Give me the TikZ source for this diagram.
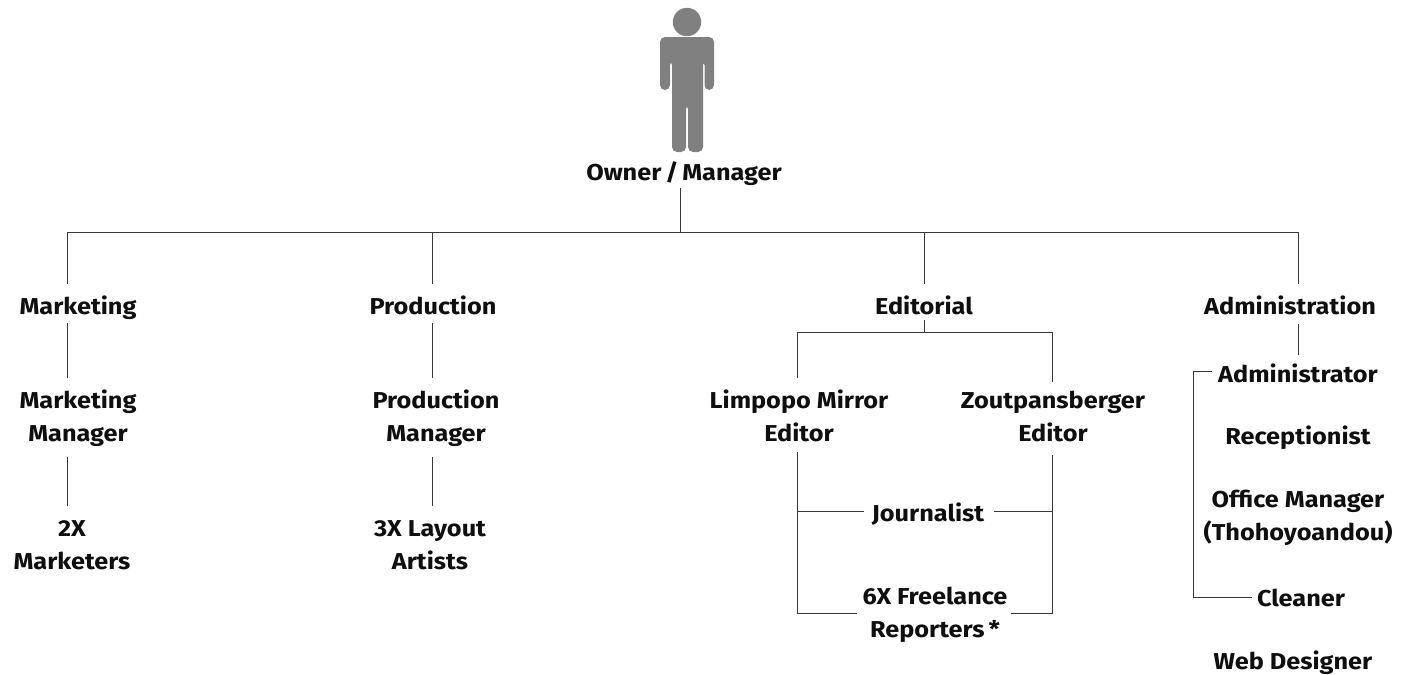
\documentclass[tikz,border=0pt]{standalone}
\usepackage{fontspec}
\setmainfont{Fira Sans}[FakeStretch=1.1]
\usetikzlibrary{calc}
\definecolor{ink}{gray}{0.06}
\definecolor{wire}{gray}{0.22}
\definecolor{figure}{gray}{0.5}
\tikzset{
  lbl/.style={font=\fontsize{23}{33}\selectfont\bfseries, text=ink, align=center, inner xsep=0pt, inner ysep=0pt, text height=15pt, text depth=1pt, minimum height=32pt, yshift=-1pt},
  lbltwo/.style={lbl, text height=48pt, minimum height=79pt},
  wirep/.style={draw=wire, line width=1pt}
}
\begin{document}
\begin{tikzpicture}[x=1pt,y=-1pt]
\useasboundingbox (0,0) rectangle (1401,675);
% person
\fill[figure] (687,22) circle (14.2);
\fill[figure, rounded corners=5pt] (660,37) -- (714,37) -- (714,90) -- (704.5,90) -- (704.5,60) -- (703,60) -- (703,152) -- (688,152) -- (688,104) -- (686,104) -- (686,152) -- (672,152) -- (672,60) -- (670,60) -- (670,90) -- (660,90) -- cycle;
% labels
\node[lbl] (owner) at (684,172) {Owner\,/\,Manager};
\node[lbl] (mkt) at (78,306) {Marketing};
\node[lbltwo] (mktm) at (78,416.5) {Marketing\\Manager};
\node[lbltwo] (mkts) at (72,544.5) {2X\\Marketers};
\node[lbl] (prod) at (433,306) {Production};
\node[lbltwo] (prodm) at (436,416.5) {Production\\Manager};
\node[lbltwo] (layout) at (430,544.5) {3X Layout\\Artists};
\node[lbl] (edit) at (924,306) {Editorial};
\node[lbltwo] (limp) at (799,416.5) {Limpopo Mirror\\Editor};
\node[lbltwo] (zout) at (1053,416.5) {Zoutpansberger\\Editor};
\node[lbl] (jour) at (928,513) {Journalist};
\node[lbltwo] (free) at (935,612.5) {6X Freelance\\Reporters\,*};
\node[lbl] (admin) at (1290,306) {Administration};
\node[lbl] (adminr) at (1298,374) {Administrator};
\node[lbl] (recep) at (1298,436) {Receptionist};
\node[lbltwo] (office) at (1298,515.5) {Office Manager\\(Thohoyoandou)};
\node[lbl] (clean) at (1301,598) {Cleaner};
\node[lbl] (web) at (1293,661) {Web Designer};
% junctions
\coordinate (bus) at (680,232);
\coordinate (busM) at (67,232);
\coordinate (busP) at (432,232);
\coordinate (busE) at (924,232);
\coordinate (busA) at (1298,232);
\coordinate (edbus) at (924,332);
\coordinate (edL) at (797,332);
\coordinate (edR) at (1052,332);
\coordinate (jL) at (797,511);
\coordinate (jR) at (1052,511);
\coordinate (fL) at (797,613);
\coordinate (fR) at (1052,613);
\coordinate (brT) at (1193,371);
\coordinate (brB) at (1193,597);
% connectors
\draw[wirep] ([yshift=1pt]owner.south -| bus) -- (bus);
\draw[wirep] (busM) -- (busA);
\draw[wirep] (busM) -- ([yshift=7pt]mkt.north -| busM);
\draw[wirep] (busP) -- ([yshift=7pt]prod.north -| busP);
\draw[wirep] (busE) -- ([yshift=7pt]edit.north -| busE);
\draw[wirep] (busA) -- ([yshift=7pt]admin.north -| busA);
\draw[wirep] (mkt.south -| busM) -- (mktm.north -| busM);
\draw[wirep] (mktm.south -| busM) -- (mkts.north -| busM);
\draw[wirep] (prod.south -| busP) -- (prodm.north -| busP);
\draw[wirep] (prodm.south -| busP) -- (layout.north -| busP);
\draw[wirep] ([yshift=3pt]edit.south) -- (edbus);
\draw[wirep] (limp.north -| edL) -- (edL) -- (edR) -- ([yshift=-4pt]zout.north -| edR);
\draw[wirep] ([yshift=5pt]limp.south -| edL) -- (fL) -- ([xshift=-5pt]free.west |- fL);
\draw[wirep] ([yshift=2pt]zout.south -| edR) -- (fR) -- ([xshift=3pt]free.east |- fR);
\draw[wirep] (jL) -- ([xshift=-8pt]jour.west |- jL);
\draw[wirep] (jR) -- ([xshift=10pt]jour.east |- jR);
\draw[wirep] ([yshift=-1pt]admin.south -| adminr) -- ([yshift=4pt]adminr.north);
\draw[wirep] ([xshift=-6pt]adminr.west |- brT) -- (brT) -- (brB) -- ([xshift=-5pt]clean.west |- brB);
\end{tikzpicture}
\end{document}
